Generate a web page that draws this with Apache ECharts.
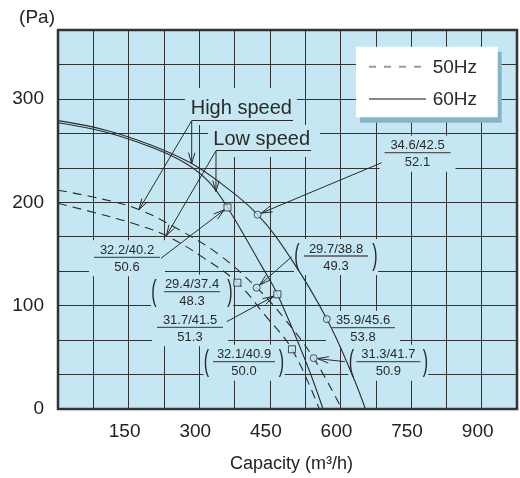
<!DOCTYPE html>
<html><head><meta charset="utf-8">
<script src="https://cdn.jsdelivr.net/npm/echarts@6/dist/echarts.min.js"></script>
<style>html,body{margin:0;padding:0;background:#fff}#c{width:520px;height:478px}</style>
</head><body><div id="c"></div>
<script>
// ---- Data (Capacity m3/h, Static pressure Pa) ----
const high60X = [0, 100, 200, 282, 344, 424, 497, 571, 627, 653];
const high60Y = [279, 270, 255, 238, 219, 188, 144, 87, 31, 0];
const low60X  = [0, 100, 200, 270, 320, 360, 433, 466, 528, 563];
const low60Y  = [277, 268, 253, 238, 220, 195, 138, 111, 44, 0];
const high50X = [0, 90, 169, 259, 340, 422, 480, 543, 603];
const high50Y = [211.7, 203.5, 193.5, 173, 150, 117.4, 88, 49.2, 0];
const low50X  = [0, 90, 170, 233, 310, 381, 440, 497, 555];
const low50Y  = [199, 188.5, 178, 167, 146, 122.2, 90.5, 57.8, 0];

// operating points
const high60MarkX = [424, 571], high60MarkY = [188, 87];
const low60MarkX  = [360, 466], low60MarkY  = [195, 111];
const high50MarkX = [422, 543], high50MarkY = [117.4, 49.2];
const low50MarkX  = [381, 497], low50MarkY  = [122.2, 57.8];

// point labels (top / bottom)
const high60Labels = [["34.6/42.5", "52.1"], ["35.9/45.6", "53.8"]];
const low60Labels  = [["32.2/40.2", "50.6"], ["31.7/41.5", "51.3"]];
const high50Labels = [["29.7/38.8", "49.3"], ["31.3/41.7", "50.9"]];
const low50Labels  = [["29.4/37.4", "48.3"], ["32.1/40.9", "50.0"]];

const xTicks = [150, 300, 450, 600, 750, 900];
const yTicks = [0, 100, 200, 300];

const BG = '#c5e7f4', INK = '#2a2a2a', FONT = 'Liberation Sans, Arial, sans-serif';
const zip = (xs, ys) => xs.map((x, i) => [x, ys[i]]);

const chart = echarts.init(document.getElementById('c'));
const lineSeries = (name, xs, ys, dashed) => ({
  name, type: 'line', data: zip(xs, ys), showSymbol: false, smooth: 0.4,
  lineStyle: { color: INK, width: 1.1, type: dashed ? [9, 6] : 'solid' }, z: 3, silent: true
});
const markSeries = (xs, ys, sym) => ({
  type: 'scatter', data: zip(xs, ys), symbol: sym, symbolSize: 7,
  itemStyle: { color: BG, borderColor: INK, borderWidth: 1 }, z: 4, silent: true
});

chart.setOption({
  animation: false,
  grid: { left: 58, right: 3, top: 30, bottom: 63, show: true, backgroundColor: BG, borderWidth: 0 },
  xAxis: {
    type: 'value', min: 0, max: 975, interval: 75,
    axisLine: { show: false }, axisTick: { show: false },
    splitLine: { show: true, lineStyle: { color: '#333', width: 1 } },
    axisLabel: { formatter: v => xTicks.includes(v) ? String(v) : '', fontSize: 19, color: '#222',
                 fontFamily: FONT, margin: 13, padding: [0, 8, 0, 0] },
    name: 'Capacity (m³/h)', nameLocation: 'middle', nameGap: 46,
    nameTextStyle: { fontSize: 18, color: '#222', fontFamily: FONT, padding: [0, 0, 0, 8] }
  },
  yAxis: {
    type: 'value', min: 0, max: 1100 / 3, interval: 100 / 3,
    axisLine: { show: false }, axisTick: { show: false },
    splitLine: { show: true, lineStyle: { color: '#333', width: 1 } },
    axisLabel: { formatter: v => { const r = Math.round(v); return (Math.abs(v - r) < 0.01 && yTicks.includes(r)) ? String(r) : ''; },
                 fontSize: 19, color: '#222', fontFamily: FONT, margin: 14, padding: [10, 0, 0, 0] },
    name: '(Pa)', nameLocation: 'end', nameGap: 12,
    nameTextStyle: { fontSize: 19, color: '#222', fontFamily: FONT, align: 'right', verticalAlign: 'middle', padding: [0, 3, 0, 0] }
  },
  series: [
    lineSeries('High speed 60Hz', high60X, high60Y, false),
    lineSeries('Low speed 60Hz', low60X, low60Y, false),
    lineSeries('High speed 50Hz', high50X, high50Y, true),
    lineSeries('Low speed 50Hz', low50X, low50Y, true),
    markSeries(high60MarkX, high60MarkY, 'circle'),
    markSeries(low60MarkX, low60MarkY, 'rect'),
    markSeries(high50MarkX, high50MarkY, 'circle'),
    markSeries(low50MarkX, low50MarkY, 'rect')
  ]
});

// ---- annotations ----
const P = (x, y) => chart.convertToPixel({ gridIndex: 0 }, [x, y]);
const interp = (xs, ys, x) => { for (let i = 1; i < xs.length; i++) if (x <= xs[i]) { const t = (x - xs[i-1]) / (xs[i] - xs[i-1]); return ys[i-1] + t * (ys[i] - ys[i-1]); } return ys[ys.length-1]; };
const G = [];
function arrow(from, to, back) {
  const dx = to[0] - from[0], dy = to[1] - from[1], L = Math.hypot(dx, dy), ux = dx / L, uy = dy / L;
  const tip = [to[0] - ux * back, to[1] - uy * back];
  const hl = 11, hw = 3.2, b = [tip[0] - ux * hl, tip[1] - uy * hl];
  G.push({ type: 'line', z: 20, shape: { x1: from[0], y1: from[1], x2: tip[0], y2: tip[1] }, style: { stroke: INK, lineWidth: 1 } });
  G.push({ type: 'polyline', z: 20, shape: { points: [[b[0] - uy * hw, b[1] + ux * hw], tip, [b[0] + uy * hw, b[1] - ux * hw]] }, style: { stroke: INK, lineWidth: 1, fill: null } });
}
function bgRect(x1, y1, x2, y2) {
  G.push({ type: 'rect', z: 1, shape: { x: x1, y: y1, width: x2 - x1, height: y2 - y1 }, style: { fill: BG } });
}
function text(str, x, y, size, align, z, extra) {
  G.push(Object.assign({ type: 'text', z: z || 21, x, y, style: { text: str, font: `${size}px ${FONT}`, fill: '#2a2a2a', align: align || 'center', verticalAlign: 'middle' } }, extra || {}));
}
function frac(lab, cx, ul, half, paren) {
  const l = paren ? cx - paren : cx - half - 2, r = paren ? cx + paren : cx + half + 2;
  bgRect(l - 3, ul - 17, r + 3, ul + 19);
  text(lab[0], cx, ul - 7, 13);
  text(lab[1], cx, ul + 10, 13);
  G.push({ type: 'line', z: 21, shape: { x1: cx - half, y1: ul, x2: cx + half, y2: ul }, style: { stroke: '#555', lineWidth: 1.3 } });
  if (paren) {
    text('(', cx - paren, ul + 1, 16, 'center', 21, { scaleY: 1.9 });
    text(')', cx + paren, ul + 1, 16, 'center', 21, { scaleY: 1.9 });
  }
}
frac(high60Labels[0], 417.5, 152.7, 33, 0); arrow([381.7, 162.7], P(high60MarkX[0], high60MarkY[0]), 4);
frac(high60Labels[1], 363, 327.7, 32, 0);
frac(low60Labels[0], 127, 257.3, 33, 0);  arrow([161, 258.3], P(low60MarkX[0], low60MarkY[0]), 4);
frac(low60Labels[1], 190, 327.3, 33, 0);  arrow([226.7, 321.7], P(low60MarkX[1], low60MarkY[1]), 4);
frac(high50Labels[0], 336, 256, 32, 39);  arrow([291.7, 256.7], P(high50MarkX[0], high50MarkY[0]), 4);
frac(high50Labels[1], 388.3, 361.7, 32, 37); arrow([345, 361.7], P(high50MarkX[1], high50MarkY[1]), 4);
frac(low50Labels[0], 192, 291.7, 28, 38);
frac(low50Labels[1], 244, 361.7, 31, 37.5);

// High speed / Low speed
bgRect(185, 88, 297, 125);
bgRect(208, 125, 320, 157);
text('High speed', 190.7, 108, 20, 'left');
G.push({ type: 'line', z: 21, shape: { x1: 191.7, y1: 120.5, x2: 293, y2: 120.5 }, style: { stroke: INK, lineWidth: 1.2 } });
text('Low speed', 213.3, 139, 20, 'left');
G.push({ type: 'line', z: 21, shape: { x1: 216, y1: 150.5, x2: 311, y2: 150.5 }, style: { stroke: INK, lineWidth: 1.2 } });
arrow([191.7, 120.7], P(284, interp(high60X, high60Y, 284)), 0);
arrow([191.7, 120.7], P(172, interp(high50X, high50Y, 172)), 0);
arrow([216, 150.7], P(335.5, interp(low60X, low60Y, 335.5)), 0);
arrow([216, 150.7], P(230, interp(low50X, low50Y, 230)), 0);

// legend box
G.push({ type: 'rect', z: 30, shape: { x: 360, y: 51.7, width: 141.7, height: 71 }, style: { fill: '#86b4c7' } });
G.push({ type: 'rect', z: 31, shape: { x: 356, y: 46.7, width: 141.7, height: 70.6 }, style: { fill: '#fff' } });
G.push({ type: 'line', z: 32, shape: { x1: 369, y1: 66.7, x2: 426, y2: 66.7 }, style: { stroke: '#999', lineWidth: 2, lineDash: [7, 8] } });
G.push({ type: 'line', z: 32, shape: { x1: 369, y1: 99, x2: 426, y2: 99 }, style: { stroke: '#111', lineWidth: 1.2 } });
text('50Hz', 432.7, 68, 19, 'left', 33);
text('60Hz', 432.7, 100, 19, 'left', 33);

// plot border
const tl = P(0, 1100 / 3), br = P(975, 0);
G.push({ type: 'rect', z: 40, shape: { x: tl[0], y: tl[1], width: br[0] - tl[0], height: br[1] - tl[1] }, style: { fill: null, stroke: '#333', lineWidth: 2.5 } });

chart.setOption({ graphic: G });
</script></body></html>
